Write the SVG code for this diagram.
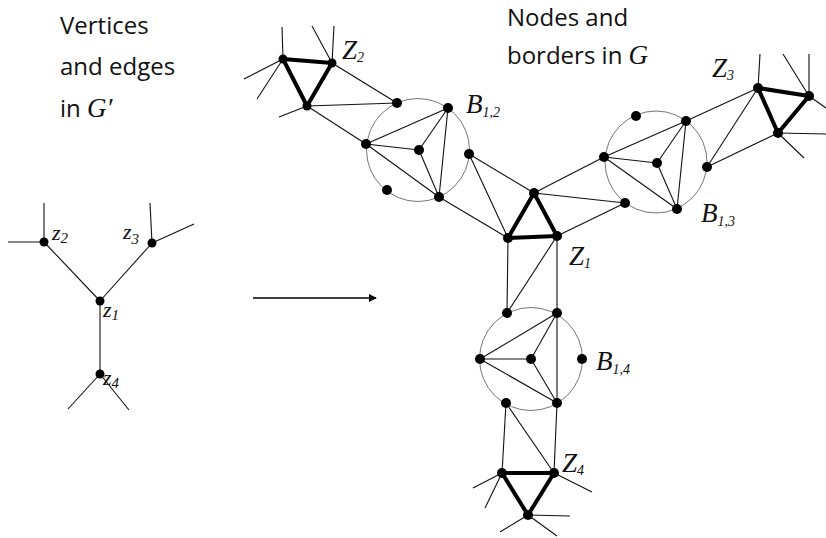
<svg xmlns="http://www.w3.org/2000/svg" width="826" height="538" viewBox="0 0 826 538">
<defs>
<style>
.t{font-family:"Open Sans","Liberation Sans",sans-serif;font-size:24px;fill:#111}
.m{font-family:"Liberation Serif",serif;font-style:italic;fill:#111}
.L{font-size:27px}
.s{font-size:14px}
.lz{font-size:22px}
.ls{font-size:15px}
.e{stroke:#111;stroke-width:1.1;fill:none}
.k{stroke:#000;stroke-width:4;fill:none;stroke-linejoin:round}
.c{stroke:#666;stroke-width:0.9;fill:none}
circle.d{fill:#000}
</style>
<marker id="ah" viewBox="0 0 10 10" refX="9" refY="5" markerWidth="8" markerHeight="8" markerUnits="userSpaceOnUse" orient="auto"><path d="M0,0 L10,5 L0,10 z" fill="#000"/></marker>
</defs>
<rect width="826" height="538" fill="#fff"/>

<g id="captions">
<text class="t" x="60" y="34">Vertices</text>
<text class="t" x="60" y="75">and edges</text>
<text class="t" x="60" y="117">in <tspan class="m L">G′</tspan></text>
<text class="t" x="507" y="26">Nodes and</text>
<text class="t" x="507" y="64">borders in <tspan class="m L">G</tspan></text>
</g>

<g id="connectors">
<!-- left graph -->
<g class="e">
<line x1="44" y1="242" x2="44" y2="203"/>
<line x1="44" y1="242" x2="8" y2="242"/>
<line x1="44" y1="242" x2="100" y2="301"/>
<line x1="152" y1="243" x2="150" y2="203"/>
<line x1="152" y1="243" x2="194" y2="224"/>
<line x1="152" y1="243" x2="100" y2="301"/>
<line x1="100" y1="301" x2="100" y2="374"/>
<line x1="100" y1="374" x2="68" y2="409"/>
<line x1="100" y1="374" x2="129" y2="410"/>
</g>
<line x1="253" y1="298" x2="376" y2="298" stroke="#000" stroke-width="1.6" marker-end="url(#ah)"/>
<!-- right graph -->
<g class="e">
<line x1="283" y1="59" x2="282" y2="27"/>
<line x1="283" y1="59" x2="244" y2="79"/>
<line x1="283" y1="59" x2="257" y2="99"/>
<line x1="332" y1="63" x2="334" y2="26"/>
<line x1="332" y1="63" x2="312" y2="26"/>
<line x1="307" y1="106" x2="279" y2="117"/>
<line x1="332" y1="63" x2="397" y2="103"/>
<line x1="307" y1="106" x2="397" y2="103"/>
<line x1="307" y1="106" x2="366" y2="144"/>
<line x1="439" y1="197" x2="508" y2="238"/>
<line x1="469" y1="154" x2="508" y2="238"/>
<line x1="469" y1="154" x2="534" y2="193"/>
<line x1="534" y1="193" x2="604" y2="157"/>
<line x1="534" y1="193" x2="625" y2="203"/>
<line x1="557" y1="236" x2="625" y2="203"/>
<line x1="686" y1="121" x2="758" y2="88"/>
<line x1="707" y1="167" x2="758" y2="88"/>
<line x1="707" y1="167" x2="778" y2="133"/>
<line x1="758" y1="88" x2="760" y2="54"/>
<line x1="809" y1="96" x2="809" y2="54"/>
<line x1="809" y1="96" x2="783" y2="54"/>
<line x1="809" y1="96" x2="826" y2="108"/>
<line x1="778" y1="133" x2="826" y2="134"/>
<line x1="778" y1="133" x2="804" y2="158"/>
<line x1="508" y1="238" x2="507" y2="313"/>
<line x1="557" y1="236" x2="507" y2="313"/>
<line x1="557" y1="236" x2="557" y2="313"/>
<line x1="506" y1="403" x2="502" y2="473"/>
<line x1="506" y1="403" x2="554" y2="473"/>
<line x1="557" y1="403" x2="554" y2="473"/>
<line x1="502" y1="473" x2="473" y2="488"/>
<line x1="502" y1="473" x2="485" y2="508"/>
<line x1="554" y1="473" x2="592" y2="492"/>
<line x1="528" y1="515" x2="570" y2="516"/>
<line x1="528" y1="515" x2="500" y2="532"/>
<line x1="528" y1="515" x2="557" y2="536"/>
</g>
</g>

<!-- left graph vertices -->
<g id="z2"><circle class="d" cx="44" cy="242" r="4.5"/><text class="m lz" x="52" y="240">z<tspan class="ls" dy="3">2</tspan></text></g>
<g id="z3"><circle class="d" cx="152" cy="243" r="4.5"/><text class="m lz" x="123" y="239">z<tspan class="ls" dy="5">3</tspan></text></g>
<g id="z1"><circle class="d" cx="100" cy="301" r="4.5"/><text class="m lz" x="103" y="317">z<tspan class="ls" dy="3">1</tspan></text></g>
<g id="z4"><circle class="d" cx="100" cy="374" r="4.5"/><text class="m lz" x="103" y="385">z<tspan class="ls" dy="3">4</tspan></text></g>

<!-- right graph nodes -->
<g id="Z2">
<polygon class="k" points="283,59 332,63 307,106"/>
<circle class="d" cx="283" cy="59" r="4.5"/><circle class="d" cx="332" cy="63" r="4.5"/><circle class="d" cx="307" cy="106" r="4.5"/>
<text class="m L" x="342" y="59">Z<tspan class="s" dy="3">2</tspan></text>
</g>
<g id="B12">
<circle class="c" cx="418" cy="150" r="51.5"/>
<g class="e">
<line x1="366" y1="144" x2="448" y2="108"/><line x1="366" y1="144" x2="419" y2="150"/><line x1="366" y1="144" x2="439" y2="197"/>
<line x1="448" y1="108" x2="419" y2="150"/><line x1="448" y1="108" x2="439" y2="197"/><line x1="419" y1="150" x2="439" y2="197"/>
</g>
<circle class="d" cx="397" cy="103" r="5"/><circle class="d" cx="448" cy="108" r="5"/><circle class="d" cx="366" cy="144" r="5"/>
<circle class="d" cx="419" cy="150" r="5"/><circle class="d" cx="469" cy="154" r="5"/><circle class="d" cx="387" cy="190" r="5"/><circle class="d" cx="439" cy="197" r="5"/>
<text class="m L" x="466" y="113">B<tspan class="s" dy="4">1,2</tspan></text>
</g>
<g id="Z1">
<polygon class="k" points="534,193 508,238 557,236"/>
<circle class="d" cx="534" cy="193" r="5"/><circle class="d" cx="508" cy="238" r="5"/><circle class="d" cx="557" cy="236" r="5"/>
<text class="m L" x="569" y="265">Z<tspan class="s" dy="3">1</tspan></text>
</g>
<g id="B13">
<circle class="c" cx="656" cy="162" r="51"/>
<g class="e">
<line x1="604" y1="157" x2="686" y2="121"/><line x1="604" y1="157" x2="657" y2="163"/><line x1="604" y1="157" x2="677" y2="209"/>
<line x1="686" y1="121" x2="657" y2="163"/><line x1="686" y1="121" x2="677" y2="209"/><line x1="657" y1="163" x2="677" y2="209"/>
</g>
<circle class="d" cx="636" cy="116" r="5"/><circle class="d" cx="686" cy="121" r="5"/><circle class="d" cx="604" cy="157" r="5"/>
<circle class="d" cx="657" cy="163" r="5"/><circle class="d" cx="707" cy="167" r="5"/><circle class="d" cx="625" cy="203" r="5"/><circle class="d" cx="677" cy="209" r="5"/>
<text class="m L" x="701" y="222">B<tspan class="s" dy="4">1,3</tspan></text>
</g>
<g id="Z3">
<polygon class="k" points="758,88 809,96 778,133"/>
<circle class="d" cx="758" cy="88" r="5"/><circle class="d" cx="809" cy="96" r="5"/><circle class="d" cx="778" cy="133" r="5"/>
<text class="m L" x="712" y="77">Z<tspan class="s" dy="3">3</tspan></text>
</g>
<g id="B14">
<circle class="c" cx="531" cy="359" r="51.5"/>
<g class="e">
<line x1="480" y1="359" x2="557" y2="313"/><line x1="480" y1="359" x2="531" y2="359"/><line x1="480" y1="359" x2="557" y2="403"/>
<line x1="557" y1="313" x2="531" y2="359"/><line x1="557" y1="313" x2="557" y2="403"/><line x1="531" y1="359" x2="557" y2="403"/>
</g>
<circle class="d" cx="507" cy="313" r="5"/><circle class="d" cx="557" cy="313" r="5"/><circle class="d" cx="480" cy="359" r="5"/>
<circle class="d" cx="531" cy="359" r="5"/><circle class="d" cx="582" cy="359" r="5"/><circle class="d" cx="506" cy="403" r="5"/><circle class="d" cx="557" cy="403" r="5"/>
<text class="m L" x="596" y="370">B<tspan class="s" dy="4">1,4</tspan></text>
</g>
<g id="Z4">
<polygon class="k" points="502,473 554,473 528,515"/>
<circle class="d" cx="502" cy="473" r="5"/><circle class="d" cx="554" cy="473" r="5"/><circle class="d" cx="528" cy="515" r="5"/>
<text class="m L" x="562" y="472">Z<tspan class="s" dy="3">4</tspan></text>
</g>
</svg>
